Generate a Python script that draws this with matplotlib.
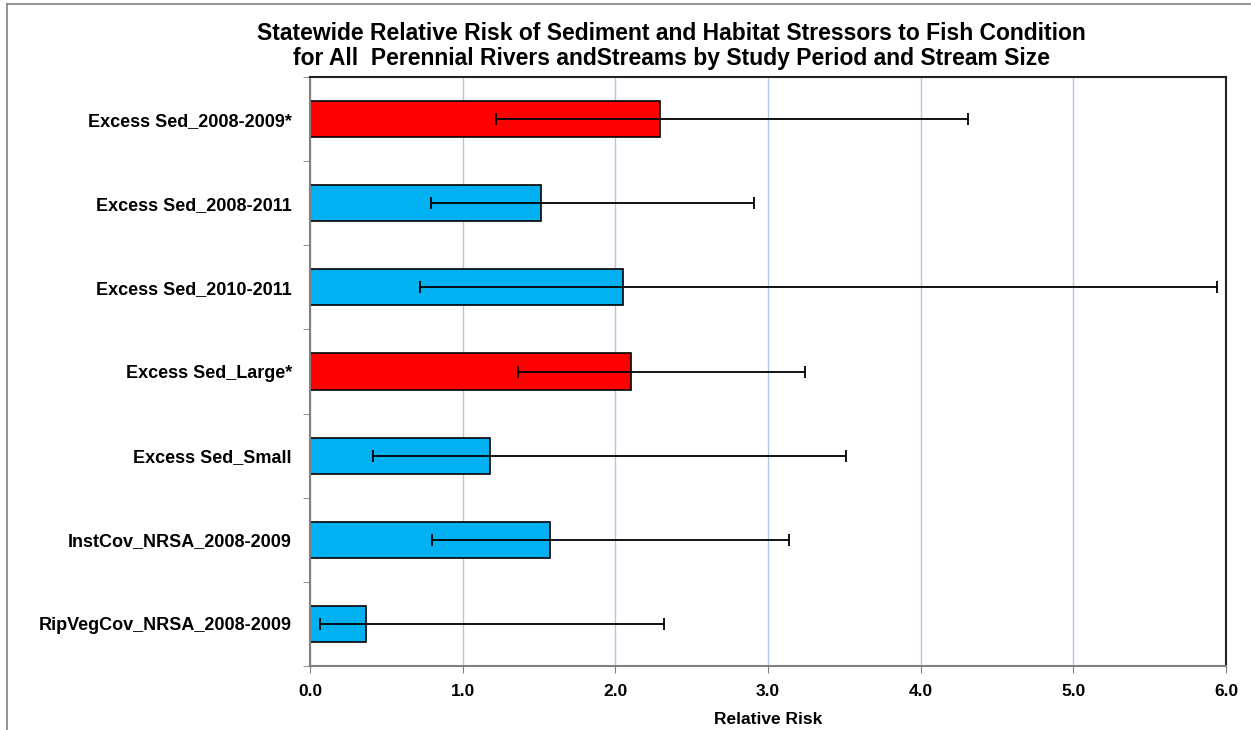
import numpy as np
import matplotlib
matplotlib.use('Agg')
import matplotlib.pyplot as plt
from matplotlib.lines import Line2D

plt.rcParams['font.family'] = ['Liberation Sans', 'DejaVu Sans']

categories = ['Excess Sed_2008-2009*', 'Excess Sed_2008-2011', 'Excess Sed_2010-2011',
              'Excess Sed_Large*', 'Excess Sed_Small', 'InstCov_NRSA_2008-2009',
              'RipVegCov_NRSA_2008-2009']
rel_risk = [2.29, 1.51, 2.05, 2.10, 1.18, 1.575, 0.37]
ci_low = [1.22, 0.79, 0.72, 1.36, 0.41, 0.80, 0.065]
ci_high = [4.31, 2.91, 5.94, 3.24, 3.51, 3.14, 2.32]
significant = [True, False, False, True, False, False, False]

colors = ['#FF0000' if s else '#00B0F0' for s in significant]

fig = plt.figure(figsize=(12.51, 7.30), dpi=100)
ax = fig.add_axes([310/1251, 1 - 666/730, (1226-310)/1251, (666-77)/730])

y = np.arange(len(categories))
rr = np.array(rel_risk)
xerr = [rr - np.array(ci_low), np.array(ci_high) - rr]
ax.barh(y, rr, height=0.43, color=colors, edgecolor='black', linewidth=1.2, zorder=2)
ax.errorbar(rr, y, xerr=xerr, fmt='none', ecolor='black', elinewidth=1.3,
            capsize=4, capthick=1.3, zorder=3)

ax.set_ylim(len(categories) - 0.5, -0.5)
ax.set_xlim(0, 6)
ax.set_xticks(np.arange(0, 6.01, 1))
ax.set_xticklabels(['%.1f' % v for v in np.arange(0, 6.01, 1)],
                   fontsize=12.5, fontweight='bold')
ax.set_yticks(y)
ax.set_yticklabels(categories, fontsize=13, fontweight='bold')
ax.set_yticks(np.arange(-0.5, len(categories), 1), minor=True)
ax.tick_params(axis='y', which='major', length=0, pad=13)
ax.tick_params(axis='y', which='minor', length=5, color='#808080', direction='out')
ax.tick_params(axis='x', length=5, color='#808080', direction='out', pad=8)

ax.grid(axis='x', color='#B4C6E7', linewidth=1, zorder=0)
ax.set_axisbelow(True)

for side in ['left', 'bottom']:
    ax.spines[side].set_color('#808080')
    ax.spines[side].set_linewidth(1.5)
for side in ['top', 'right']:
    ax.spines[side].set_color('#222222')
    ax.spines[side].set_linewidth(1.5)

ax.set_xlabel('Relative Risk', fontsize=12.5, fontweight='bold', labelpad=9)

fig.text(0.537, 1 - 33/730,
         'Statewide Relative Risk of Sediment and Habitat Stressors to Fish Condition',
         ha='center', va='center', fontsize=16.5, fontweight='bold')
fig.text(0.537, 1 - 58/730,
         'for All  Perennial Rivers andStreams by Study Period and Stream Size',
         ha='center', va='center', fontsize=16.5, fontweight='bold')

# chart area border
fig.add_artist(Line2D([7/1251, 7/1251], [0, 1 - 4/730], color='#808080', linewidth=1.2))
fig.add_artist(Line2D([7/1251, 1], [1 - 4/730, 1 - 4/730], color='#808080', linewidth=1.2))

fig.savefig('out.png', dpi=100)
